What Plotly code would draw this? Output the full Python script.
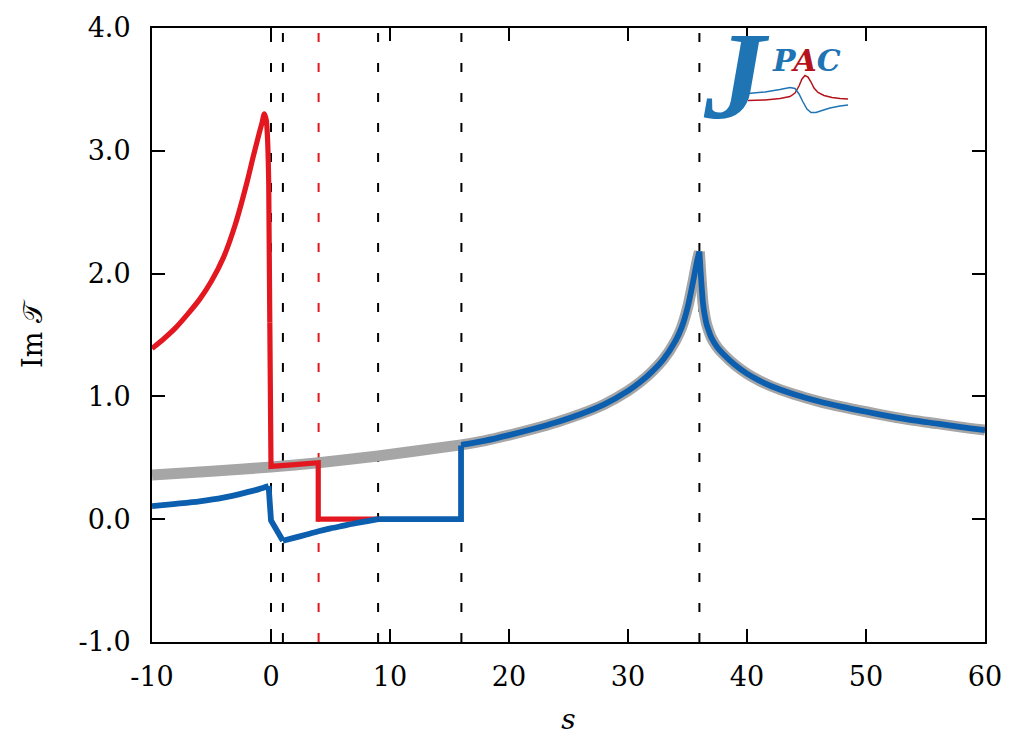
import plotly.graph_objects as go

# ---------------- data ----------------
# red curve: smooth rise to the peak, then steps
red_smooth_s = [-10, -9, -8, -7, -6, -5, -4, -3, -2, -1.5, -1, -0.75, -0.56, -0.4, -0.31, -0.19, -0.1]
red_smooth_y = [1.39, 1.47, 1.56, 1.67, 1.79, 1.94, 2.13, 2.40, 2.75, 2.95, 3.14, 3.23, 3.30, 3.25, 3.14, 2.73, 1.6]
red_step_s = [-0.1, 0, 2, 3.97, 3.97, 9]
red_step_y = [1.6, 0.43, 0.445, 0.46, 0.0, 0.0]

# blue curve below threshold s=16
blue_a_s = [-10, -8, -6, -4, -2, -1, -0.2]
blue_a_y = [0.107, 0.125, 0.145, 0.175, 0.22, 0.245, 0.27]
blue_b_s = [-0.2, 0, 1]
blue_b_y = [0.27, -0.01, -0.175]
blue_c_s = [1, 2, 3, 4, 5, 6, 7, 8, 9]
blue_c_y = [-0.175, -0.15, -0.125, -0.098, -0.075, -0.055, -0.035, -0.018, 0.0]
blue_d_s = [9, 12, 15.97, 15.97]
blue_d_y = [0.0, 0.0, 0.0, 0.60]

# gray curve below s=16
gray_low_s = [-10, -5, 0, 4, 9, 12, 15.97]
gray_low_y = [0.36, 0.39, 0.425, 0.46, 0.515, 0.553, 0.605]

# common curve (gray and blue) above s=16: left and right of the peak at s=36
left_s = [15.97, 18, 20, 22, 24, 26, 28, 30, 31, 32, 33, 34, 34.5, 35, 35.5, 35.8, 36]
left_y = [0.605, 0.64, 0.685, 0.735, 0.79, 0.855, 0.935, 1.045, 1.115, 1.20, 1.305, 1.455, 1.56, 1.72, 1.95, 2.10, 2.18]
right_s = [36, 36.1, 36.2, 36.3, 36.45, 36.6, 36.8, 37, 37.5, 38, 39, 40, 41, 42, 44, 46, 48, 50, 52, 54, 56, 58, 60]
right_y = [2.18, 2.02, 1.88, 1.76, 1.66, 1.59, 1.53, 1.48, 1.40, 1.345, 1.255, 1.185, 1.13, 1.085, 1.015, 0.96, 0.915,
           0.875, 0.838, 0.805, 0.778, 0.75, 0.726]

black_thresholds = [0, 1, 9, 16, 36]
red_thresholds = [4]

x_ticks = [-10, 0, 10, 20, 30, 40, 50, 60]
x_tick_text = ["-10", "0", "10", "20", "30", "40", "50", "60"]
y_ticks = [-1, 0, 1, 2, 3, 4]
y_tick_text = ["-1.0", "0.0", "1.0", "2.0", "3.0", "4.0"]

RED = "#e3171f"
BLUE = "#0c5fae"
GRAY = "#a6a6a6"
FONT = "DejaVu Serif"

W, H = 1014, 736
ML, MR, MT, MB = 152, 29, 28, 94

fig = go.Figure()


def seg(xs, ys, color, width, shape="linear"):
    fig.add_trace(go.Scatter(x=xs, y=ys, mode="lines",
                             line=dict(color=color, width=width, shape=shape, smoothing=0.8),
                             showlegend=False, hoverinfo="skip"))


GW, RW, BW = 11, 5.2, 5.8
seg(gray_low_s, gray_low_y, GRAY, GW, "spline")
seg(left_s, left_y, GRAY, GW, "spline")
seg(right_s, right_y, GRAY, GW, "spline")
seg(red_smooth_s, red_smooth_y, RED, RW, "spline")
seg(red_step_s, red_step_y, RED, RW)
seg(blue_a_s, blue_a_y, BLUE, BW, "spline")
seg(blue_b_s, blue_b_y, BLUE, BW)
seg(blue_c_s, blue_c_y, BLUE, BW, "spline")
seg(blue_d_s, blue_d_y, BLUE, BW)
seg(left_s, left_y, BLUE, BW, "spline")
seg(right_s, right_y, BLUE, BW, "spline")

shapes = []
for t in black_thresholds:
    shapes.append(dict(type="line", xref="x", yref="paper", x0=t, x1=t, y0=0, y1=1,
                       line=dict(color="black", width=2, dash="9px,21px"), layer="below"))
for t in red_thresholds:
    shapes.append(dict(type="line", xref="x", yref="paper", x0=t, x1=t, y0=0, y1=1,
                       line=dict(color=RED, width=2, dash="9px,21px"), layer="below"))

# ---- JPAC logo (decoration, pixel positions -> paper coords) ----
def px(xp, yp):
    return (xp - ML) / (W - ML - MR), (H - MB - yp) / (H - MT - MB)


def path(points):
    pts = [px(a, b) for a, b in points]
    d = "M %.5f,%.5f" % pts[0]
    for p in pts[1:]:
        d += " L %.5f,%.5f" % p
    return d


logo_red = [(748, 100.5), (765, 100), (780, 98.5), (790, 96.5), (795, 93), (799, 86), (802, 79), (805, 75.5),
            (808, 77), (811, 82), (814, 88), (818, 92.5), (824, 95.5), (832, 97.5), (840, 98.5), (848, 99)]
logo_blue = [(748, 93.5), (765, 92), (780, 89.5), (790, 87.5), (795, 88.5), (799, 94), (803, 102), (807, 109),
             (811, 112.5), (816, 112.5), (822, 110.5), (830, 108), (840, 106), (848, 105)]
shapes.append(dict(type="path", xref="paper", yref="paper", path=path(logo_red),
                   line=dict(color="#b5121b", width=1.5)))
shapes.append(dict(type="path", xref="paper", yref="paper", path=path(logo_blue),
                   line=dict(color="#1f74b4", width=1.5)))

jx, jy = px(736, 76)
px_, py_ = px(806, 60)
annotations = [
    dict(x=jx, y=jy, xref="paper", yref="paper", text="<b><i>J</i></b>", showarrow=False,
         font=dict(family="Liberation Serif", size=124, color="#1f74b4"), xanchor="center", yanchor="middle"),
    dict(x=px_, y=py_, xref="paper", yref="paper",
         text="<b><i><span style='color:#1f74b4'>P</span><span style='color:#b5121b'>A</span><span style='color:#1f74b4'>C</span></i></b>",
         showarrow=False, font=dict(family="DejaVu Serif", size=30, color="#1f74b4"),
         xanchor="center", yanchor="middle"),
]

fig.update_layout(
    width=W, height=H,
    margin=dict(l=ML, r=MR, t=MT, b=MB, autoexpand=False),
    paper_bgcolor="white", plot_bgcolor="white",
    shapes=shapes, annotations=annotations,
    font=dict(family=FONT, size=27, color="black"),
    xaxis=dict(range=[-10, 60], tickvals=x_ticks, ticktext=x_tick_text, ticks="inside", ticklen=13,
               tickwidth=2, tickcolor="black", showline=True, linewidth=2, linecolor="black",
               mirror="ticks", showgrid=False, zeroline=False, ticklabelstandoff=10, automargin=False,
               title=dict(text="<i>s</i>", font=dict(family=FONT, size=28), standoff=18)),
    yaxis=dict(range=[-1, 4], tickvals=y_ticks, ticktext=y_tick_text, ticks="inside", ticklen=13,
               tickwidth=2, tickcolor="black", showline=True, linewidth=2, linecolor="black",
               mirror="ticks", showgrid=False, zeroline=False, ticklabelstandoff=14, automargin=False,
               title=dict(text="Im 𝒯", font=dict(family=FONT, size=27), standoff=28)),
)

fig.write_html("out.html")
